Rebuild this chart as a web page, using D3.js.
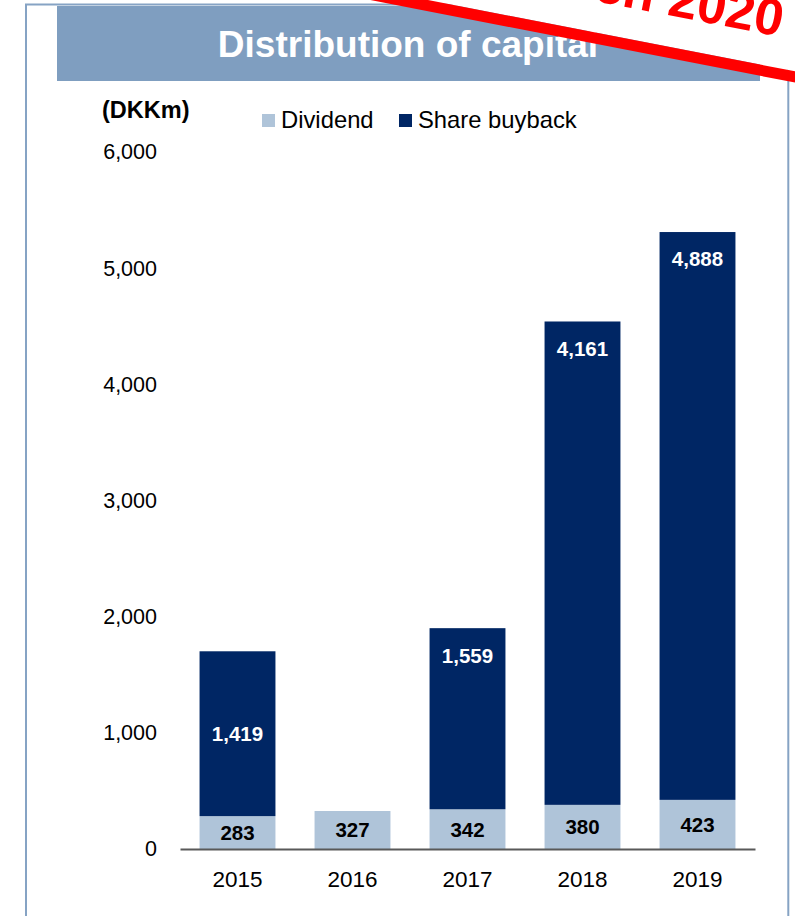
<!DOCTYPE html>
<html>
<head>
<meta charset="utf-8">
<script src="https://cdn.jsdelivr.net/npm/d3@7"></script>
<style>
  html, body { margin: 0; padding: 0; background: #ffffff; }
  svg { display: block; }
  text { font-family: "Liberation Sans", Arial, Helvetica, sans-serif; }
</style>
</head>
<body>
<div id="chart"></div>
<script>
// Capital distributed per year, DKK million
const years = ["2015", "2016", "2017", "2018", "2019"];
const dividend = [283, 327, 342, 380, 423];
const buyback = [1419, 0, 1559, 4161, 4888];
const seriesNames = ["Dividend", "Share buyback"];
const yTicks = [0, 1000, 2000, 3000, 4000, 5000, 6000];

const W = 795, H = 916;
const colors = { dividend: "#afc4d9", buyback: "#002664", banner: "#7f9ec0", frame: "#86a3c4", red: "#ff0000" };

const svg = d3.select("#chart").append("svg")
  .attr("width", W).attr("height", H);

// Outer frame and title banner
svg.append("rect")
  .attr("x", 26).attr("y", 4.5).attr("width", 762.3).attr("height", H + 20)
  .attr("fill", "none").attr("stroke", colors.frame).attr("stroke-width", 2);

svg.append("rect")
  .attr("x", 57).attr("y", 6).attr("width", 703).attr("height", 75)
  .attr("fill", colors.banner);

svg.append("text")
  .attr("x", 408).attr("y", 57)
  .attr("text-anchor", "middle")
  .attr("fill", "#ffffff").attr("font-weight", "bold").attr("font-size", 37)
  .text("Distribution of capital");

// Scales
const x = d3.scaleBand().domain(years).range([180, 755]).paddingInner(0.34).paddingOuter(0.17);
const y = d3.scaleLinear().domain([0, 6000]).range([849, 152]);

// Y axis: labels only
const yAxis = svg.append("g")
  .attr("transform", "translate(180,0)")
  .call(d3.axisLeft(y).tickValues(yTicks).tickSize(0).tickPadding(23).tickFormat(d3.format(",")));
yAxis.select(".domain").remove();
yAxis.selectAll("text")
  .attr("font-family", "'Liberation Sans', Arial, sans-serif")
  .attr("font-size", 21.5).attr("fill", "#000000");

// Unit label
svg.append("text")
  .attr("x", 102).attr("y", 118)
  .attr("font-weight", "bold").attr("font-size", 23.5).attr("fill", "#000000")
  .text("(DKKm)");

// Legend
const legendItems = [
  { name: seriesNames[0], color: colors.dividend, x: 262 },
  { name: seriesNames[1], color: colors.buyback, x: 399 }
];
const lg = svg.append("g").selectAll("g").data(legendItems).join("g")
  .attr("transform", d => `translate(${d.x},0)`);
lg.append("rect").attr("x", 0).attr("y", 114).attr("width", 13).attr("height", 13).attr("fill", d => d.color);
lg.append("text").attr("x", 19).attr("y", 128)
  .attr("font-size", 23.8).attr("fill", "#000000").text(d => d.name);

// Stacked bars
const rows = years.map((yr, i) => ({ year: yr, dividend: dividend[i], buyback: buyback[i] }));
const stack = d3.stack().keys(["dividend", "buyback"])(rows);

const layers = svg.append("g").selectAll("g").data(stack).join("g")
  .attr("fill", d => colors[d.key]);
layers.selectAll("rect").data(d => d).join("rect")
  .attr("x", d => x(d.data.year))
  .attr("width", x.bandwidth())
  .attr("y", d => y(d[1]))
  .attr("height", d => y(d[0]) - y(d[1]));

// X axis
const xAxis = svg.append("g")
  .attr("transform", "translate(0,849)")
  .call(d3.axisBottom(x).tickSize(0).tickPadding(22));
xAxis.select(".domain").attr("stroke", "#595959").attr("stroke-width", 2);
xAxis.selectAll("text")
  .attr("font-family", "'Liberation Sans', Arial, sans-serif")
  .attr("font-size", 22.5).attr("fill", "#000000");

// Value labels
const fmt = d3.format(",");
svg.append("g").selectAll("text").data(rows).join("text")
  .attr("x", d => x(d.year) + x.bandwidth() / 2)
  .attr("y", d => (y(0) + y(d.dividend)) / 2)
  .attr("dy", "0.36em")
  .attr("text-anchor", "middle")
  .attr("font-weight", "bold").attr("font-size", 20.5).attr("fill", "#000000")
  .text(d => fmt(d.dividend));

svg.append("g").selectAll("text").data(rows.filter(d => d.buyback > 0)).join("text")
  .attr("x", d => x(d.year) + x.bandwidth() / 2)
  .attr("y", d => {
    const top = y(d.dividend + d.buyback), bottom = y(d.dividend);
    // short segments carry the label in the middle, tall ones near the top
    return d.buyback < 1500 ? (top + bottom) / 2 : top + 27;
  })
  .attr("dy", "0.36em")
  .attr("text-anchor", "middle")
  .attr("font-weight", "bold").attr("font-size", 20.5).attr("fill", "#ffffff")
  .text(d => fmt(d.buyback));

// Diagonal date sticker across the top-right corner
const sticker = svg.append("g").attr("transform", "translate(500,14) rotate(11)");
sticker.append("rect").attr("x", -250).attr("y", -160).attr("width", 700).attr("height", 160).attr("fill", "#ffffff");
sticker.append("rect").attr("x", -250).attr("y", 0).attr("width", 700).attr("height", 11).attr("fill", colors.red);
sticker.append("text")
  .attr("x", 279).attr("y", -31)
  .attr("text-anchor", "end")
  .attr("font-weight", "bold").attr("font-size", 52).attr("fill", colors.red)
  .text("March 2020");
</script>
</body>
</html>
